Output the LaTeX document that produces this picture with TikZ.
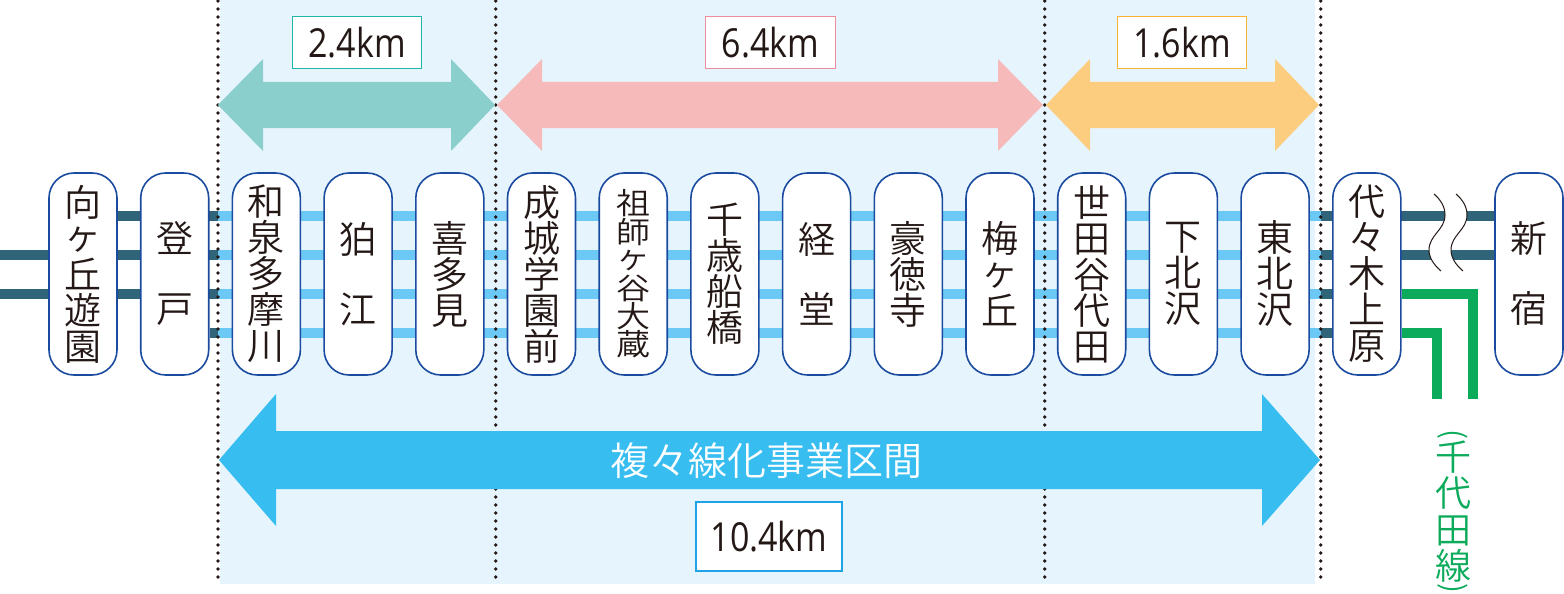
\documentclass[tikz,border=0pt]{standalone}
\usepackage{fontspec}
\usepackage{graphicx}
\newfontfamily\jp{Noto Sans CJK JP}[UprightFont={* DemiLight}]
\newfontfamily\latn{Open Sans}[FakeStretch=0.85]
\definecolor{ink}{HTML}{231815}
\definecolor{stnblue}{HTML}{1B4B9F}
\definecolor{trackdark}{HTML}{2F6479}
\definecolor{tracklight}{HTML}{6CC8F5}
\definecolor{panel}{HTML}{E6F5FD}
\definecolor{arrteal}{HTML}{8ACFCB}
\definecolor{arrpink}{HTML}{F6BABB}
\definecolor{arrorange}{HTML}{FCCC7F}
\definecolor{arrblue}{HTML}{38BDF0}
\definecolor{linegreen}{HTML}{0CAB5B}
\definecolor{boxteal}{HTML}{1DB5AE}
\definecolor{boxpink}{HTML}{EE8C9C}
\definecolor{boxorange}{HTML}{F9B233}
\definecolor{boxblue}{HTML}{1EA4E6}
\newcommand{\kh}{\raisebox{3pt}{ヶ}}
\lineskiplimit=-50pt
\pgfdeclarelayer{back}
\pgfsetlayers{back,main}
\tikzset{
  stn/.style={rectangle,draw=stnblue,fill=white,line width=1.6pt,rounded corners=25pt,
    minimum width=68pt,minimum height=202pt,inner sep=0pt,align=center,text=ink,
    font=\jp\fontsize{37}{36}\selectfont},
  tkd/.style={draw=trackdark,line width=10pt},
  tkl/.style={draw=tracklight,line width=10pt},
  tkg/.style={draw=linegreen,line width=10pt,line join=miter},
  dots/.style={draw=ink,line width=3.7pt,line cap=round,dash pattern=on 0pt off 8pt},
  wave/.style={draw=ink,line width=1pt},
  kmbox/.style={rectangle,fill=white,line width=1.4pt,inner sep=0pt,text=ink,
    font=\latn\fontsize{40}{40}\selectfont},
  paren/.style={text=linegreen,inner sep=0pt,rotate=-90,font=\jp\fontsize{30}{30}\selectfont},
}
\newcommand{\dblarrow}[8]{% colour, tip L, base L, base R, tip R, y centre, head half, shaft half
  \fill[#1] (#2,#6) -- (#3,#6-#7) -- (#3,#6-#8) -- (#4,#6-#8) -- (#4,#6-#7) -- (#5,#6)
    -- (#4,#6+#7) -- (#4,#6+#8) -- (#3,#6+#8) -- (#3,#6+#7) -- cycle;}
\begin{document}
\begin{tikzpicture}[x=1pt,y=-1pt]
\useasboundingbox (0,0) rectangle (1564,594);
% stations
\node[stn] (s0) at (83,274) {向\\\kh\\丘\\遊\\園};
\node[stn] (s1) at (174.7,274) {登\\[34pt]戸};
\node[stn] (s2) at (266.4,274) {和\\泉\\多\\摩\\川};
\node[stn] (s3) at (358.1,274) {狛\\[34pt]江};
\node[stn] (s4) at (449.8,274) {喜\\多\\見};
\node[stn] (s5) at (541.5,274) {成\\城\\学\\園\\前};
\node[stn] (s6) at (633.2,274) {\scalebox{1}[.88]{\parbox{40pt}{\centering\fontsize{34}{32}\selectfont 祖\\師\\\kh\\谷\\大\\蔵}}};
\node[stn] (s7) at (724.9,274) {千\\歳\\船\\橋};
\node[stn] (s8) at (816.6,274) {経\\[34pt]堂};
\node[stn] (s9) at (908.3,274) {豪\\徳\\寺};
\node[stn] (s10) at (1000,274) {梅\\\kh\\丘};
\node[stn] (s11) at (1091.7,274) {世\\田\\谷\\代\\田};
\node[stn] (s12) at (1183.4,274) {下\\北\\沢};
\node[stn] (s13) at (1275.1,274) {東\\北\\沢};
\node[stn] (s14) at (1366.8,274) {代\\々\\木\\上\\原};
\node[stn] (s15) at (1529,274) {新\\[34pt]宿};
% anchors
\coordinate (west) at (0,0);
\coordinate (wallL) at (218,0);
\coordinate (wallM1) at (495.7,0);
\coordinate (wallM2) at (1044.7,0);
\coordinate (wallR) at (1320.7,0);
\coordinate (r1) at (0,215.7);
\coordinate (r2) at (0,254.7);
\coordinate (r3) at (0,293.7);
\coordinate (r4) at (0,332.7);
\coordinate (g1) at (1472.5,399);
\coordinate (g2) at (1437,399);
\begin{pgfonlayer}{back}
  \fill[panel] (220,0) rectangle (1315,584);
  % light section
  \foreach \r in {r1,r2,r3,r4}{\draw[tkl] (wallL |- \r) -- (wallR |- \r);}
  % dark sections
  \draw[tkd] (s0.east |- r1) -- (wallL |- r1);
  \draw[tkd] (west |- r2) -- (wallL |- r2);
  \draw[tkd] (west |- r3) -- (wallL |- r3);
  \draw[tkd] (s1.east |- r4) -- (wallL |- r4);
  \draw[tkd] (wallR |- r1) -- (s15.west |- r1);
  \draw[tkd] (wallR |- r2) -- (s15.west |- r2);
  \draw[tkd] (wallR |- r3) -- (s14.west |- r3);
  \draw[tkd] (wallR |- r4) -- (s14.west |- r4);
  % Chiyoda line
  \draw[tkg] (s14.east |- r3) -- (g1 |- r3) -- (g1);
  \draw[tkg] (s14.east |- r4) -- (g2 |- r4) -- (g2);
  % break
  \fill[white] (1434,194) .. controls (1441,200) and (1445,207) .. (1445,215)
     .. controls (1445,230) and (1429,235) .. (1429,250)
     .. controls (1429,258) and (1434,265) .. (1441,271)
     -- (1463,271) .. controls (1456,265) and (1451,258) .. (1451,250)
     .. controls (1451,235) and (1467,230) .. (1467,215)
     .. controls (1467,207) and (1463,200) .. (1456,194) -- cycle;
  \draw[wave] (1434,194) .. controls (1441,200) and (1445,207) .. (1445,215)
     .. controls (1445,230) and (1429,235) .. (1429,250)
     .. controls (1429,258) and (1434,265) .. (1441,271);
  \draw[wave] (1456,194) .. controls (1463,200) and (1467,207) .. (1467,215)
     .. controls (1467,230) and (1451,235) .. (1451,250)
     .. controls (1451,258) and (1456,265) .. (1463,271);
  % section boundaries
  \foreach \w in {wallL,wallM1,wallM2,wallR}{\draw[dots] (\w) ++(0,1) -- ++(0,583);}
\end{pgfonlayer}
% distance arrows
\dblarrow{arrteal}{218}{263}{451}{495}{105}{46}{23}
\dblarrow{arrpink}{497}{542}{998}{1043}{105}{46}{23}
\dblarrow{arrorange}{1046}{1090}{1275}{1319}{105}{46}{23}
\dblarrow{arrblue}{219}{276}{1262}{1320}{460}{66}{29}
\node[text=white,inner sep=0pt,font=\jp\fontsize{39}{39}\selectfont] (title) at (766,461) {複々線化事業区間};
% distance labels
\node[kmbox,draw=boxteal,minimum width=129.5pt,minimum height=52.5pt] (d1) at (357,42.5) {2.4km};
\node[kmbox,draw=boxpink,minimum width=129.5pt,minimum height=52.5pt] (d2) at (770.5,42.5) {6.4km};
\node[kmbox,draw=boxorange,minimum width=129.5pt,minimum height=52.5pt] (d3) at (1182,42.5) {1.6km};
\node[kmbox,draw=boxblue,line width=1.6pt,minimum width=146pt,minimum height=69pt] (d4) at (769,536.5) {10.4km};
% Chiyoda label
\node[text=linegreen,inner sep=0pt,align=center,font=\jp\fontsize{36}{36.3}\selectfont] (chiyoda) at (1453,511.5) {千\\代\\田\\線};
\node[paren] (po) at (1453,434) {(};
\node[paren] (pc) at (1453,588) {)};
\end{tikzpicture}
\end{document}
